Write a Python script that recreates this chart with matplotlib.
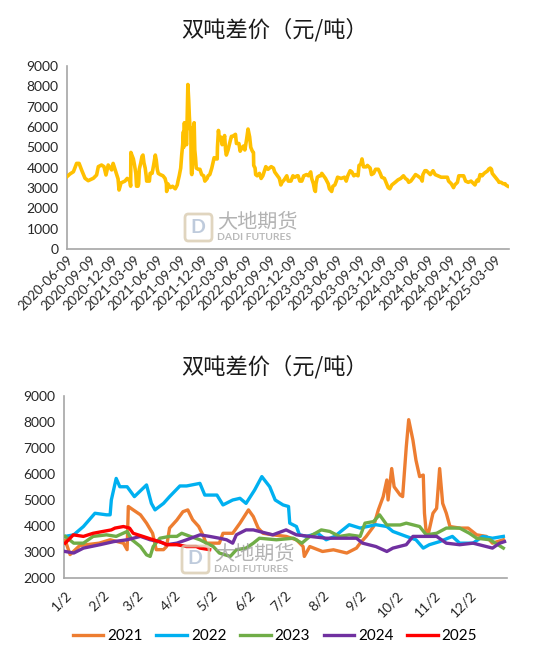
import numpy as np
import pandas as pd
import matplotlib
matplotlib.use("Agg")
import matplotlib.pyplot as plt
import matplotlib.dates as mdates
from matplotlib.patches import FancyBboxPatch

plt.rcParams['font.family'] = ['Lato', 'Noto Sans CJK SC', 'DejaVu Sans']

title = "双吨差价（元/吨）"

# 2020 part of the long series (Jun-Dec)
dates_2020 = ["2020-06-09", "2020-06-21", "2020-07-05", "2020-07-18", "2020-07-28",
              "2020-08-07", "2020-08-21", "2020-09-03", "2020-09-24", "2020-10-07",
              "2020-10-14", "2020-10-27", "2020-11-06", "2020-11-14", "2020-11-23",
              "2020-12-07", "2020-12-13", "2020-12-24"]
vals_2020 = [3560, 3690, 3800, 4210, 4210, 3890, 3480, 3360, 3480, 3640,
             4050, 4130, 4050, 3640, 4130, 3890, 4210, 3800]

# per-year series: day of year, value
day_2021 = [2, 6, 14, 30, 39, 50, 53, 54, 58, 64, 69, 74, 77, 83, 85.5, 88, 94, 99, 103, 107,
            112, 116, 118, 129, 132, 140, 146, 153, 157, 161, 165, 173, 184, 192.5, 198, 199,
            203.5, 214, 223, 234, 242, 245, 250, 256, 260, 264, 267, 268, 271, 273, 278, 280,
            283, 285, 288.5, 291, 294, 297, 298, 299.5, 301, 305, 308, 310.5, 313, 316, 319,
            327, 334, 341, 349, 354, 363]
val_2021 = [3450, 2900, 3250, 3340, 3470, 3340, 3090, 4750, 4620, 4430, 4110, 3720, 3090, 3090,
            3210, 3920, 4230, 4550, 4620, 4240, 3980, 3600, 3340, 3340, 3720, 3720, 4110, 4620,
            4360, 3920, 3720, 3660, 3600, 3470, 3210, 2830, 3210, 3020, 3085, 2960, 3150, 3340,
            3600, 3980, 4620, 5130, 5770, 5000, 6210, 5510, 5190, 5130, 7040, 8090, 7300, 6530,
            5900, 5960, 4490, 3720, 3660, 4490, 4680, 6210, 4870, 4490, 3980, 3920, 3920, 3660,
            3600, 3340, 3470]

day_2022 = [2, 9, 17, 26.5, 36, 39, 40, 44, 47, 50, 53, 59, 69, 73, 76, 83, 88, 96.5, 102, 113,
            117, 127, 132, 140, 146, 151, 158, 164, 170.5, 175, 181.5, 186, 187, 192.5, 195, 201,
            210, 217, 224, 236, 245, 258, 267, 272, 283, 291, 297, 302, 310.5, 321, 327, 338,
            346, 354, 363]
val_2022 = [3600, 3660, 3980, 4490, 4430, 4430, 5000, 5830, 5510, 5510, 5510, 5130, 5580, 4870,
            4620, 4870, 5130, 5540, 5540, 5640, 5190, 5190, 4810, 5000, 5065, 4870, 5380, 5900,
            5510, 5000, 4810, 4750, 4110, 3980, 3660, 3600, 3720, 3470, 3600, 4050, 3920, 4050,
            3980, 3790, 3600, 3470, 3150, 3280, 3400, 3600, 3340, 3340, 3600, 3530, 3600]

day_2023 = [2, 9, 17, 25, 36, 44, 53, 57, 64, 69, 72, 74.5, 80, 88, 94, 98, 105, 113, 124, 129,
            138, 143, 151, 157, 162, 176, 190, 197, 203.5, 213, 220, 228, 236, 245, 249, 256,
            261, 267, 278, 283, 294, 299.5, 308, 316, 327, 335, 341, 352, 363]
val_2023 = [3600, 3340, 3340, 3600, 3660, 3600, 3790, 3470, 3210, 2890, 2830, 3210, 3530, 3600,
            3600, 3720, 3600, 3470, 3210, 2960, 2830, 3085, 3150, 3340, 3530, 3470, 3530, 3340,
            3600, 3850, 3790, 3600, 3660, 3600, 4110, 4170, 4430, 4040, 4040, 4110, 3980, 3660,
            3720, 3920, 3920, 3720, 3530, 3470, 3150]

day_2024 = [2, 9, 17, 30.6, 42, 53, 64, 72, 80, 85.5, 94, 102, 113, 121, 129, 135, 140, 143,
            151, 157, 162, 173, 184, 192.5, 203.5, 217, 228, 242, 247, 258, 267, 272, 283,
            288.5, 299.5, 308, 316, 327, 338, 349, 354, 360, 364]
val_2024 = [3020, 2960, 3150, 3280, 3400, 3470, 3600, 3470, 3400, 3280, 3340, 3470, 3660, 3600,
            3530, 3470, 3340, 3660, 3850, 3850, 3790, 3660, 3850, 3660, 3600, 3530, 3530, 3530,
            3340, 3210, 3020, 3150, 3280, 3600, 3600, 3600, 3340, 3280, 3340, 3210, 3150, 3340,
            3400]

day_2025 = [2, 8.7, 17, 25, 33, 40, 43, 50, 55, 58, 66, 74.5, 83, 85.5, 94, 102, 110, 113, 121]
val_2025 = [3340, 3660, 3600, 3720, 3790, 3850, 3920, 3980, 3920, 3720, 3600, 3470, 3340, 3280,
            3280, 3210, 3210, 3150, 3090]

years = [2021, 2022, 2023, 2024, 2025]
year_days = [day_2021, day_2022, day_2023, day_2024, day_2025]
year_vals = [val_2021, val_2022, val_2023, val_2024, val_2025]
colors = ['#ED7D31', '#00B0F0', '#70AD47', '#7030A0', '#FF0000']

month_ticks = [2, 33, 61, 92, 122, 153, 183, 214, 245, 275, 306, 336]
month_labels = [f"{m}/2" for m in range(1, 13)]

# long series = 2020 part + each year's points placed on real dates
all_dates = list(pd.to_datetime(dates_2020))
all_vals = list(vals_2020)
for y, dd, vv in zip(years, year_days, year_vals):
    base = pd.Timestamp(f"{y}-01-01")
    all_dates += [base + pd.Timedelta(days=d - 1) for d in dd]
    all_vals += vv

fig = plt.figure(figsize=(5.5, 6.59), dpi=100)
W, H = 550, 659

def style_axes(ax):
    for s in ['top', 'right']:
        ax.spines[s].set_visible(False)
    for s in ['left', 'bottom']:
        ax.spines[s].set_color('#A6A6A6')
        ax.spines[s].set_linewidth(1.2)
    ax.tick_params(length=0, labelsize=10, colors='#262626', pad=6)

def watermark(x, y):
    # x, y: top-left corner in pixels
    box = FancyBboxPatch((x / W, 1 - (y + 28) / H), 27 / W, 27 / H,
                         boxstyle="round,pad=0,rounding_size=0.006",
                         transform=fig.transFigure, facecolor='none',
                         edgecolor='#D9CBB0', lw=2.0, alpha=0.8)
    fig.patches.append(box)
    fig.text((x + 13) / W, 1 - (y + 14) / H, "D", fontsize=14, color='#B8C6D9',
             ha='center', va='center', fontweight='bold', alpha=0.9)
    fig.text((x + 32) / W, 1 - (y + 9) / H, "大地期货", fontsize=14.5, color='#A0A0A0',
             ha='left', va='center', alpha=0.8, family=['Noto Sans CJK SC'])
    fig.text((x + 32) / W, 1 - (y + 24) / H, "DADI FUTURES", fontsize=7.5, color='#A8A8A8',
             ha='left', va='center', fontweight='bold', alpha=0.8)

# ---- top chart
ax1 = fig.add_axes([67 / W, 1 - 249 / H, 442 / W, 183 / H])
ax1.plot(all_dates, all_vals, color='#FFC000', lw=2.6, zorder=3)
ax1.set_ylim(0, 9000)
ax1.set_yticks(range(0, 9001, 1000))
ax1.set_xlim(pd.Timestamp("2020-06-09"), pd.Timestamp("2025-05-06"))
top_ticks = pd.date_range("2020-06-09", "2025-03-09", freq=pd.DateOffset(months=3))
ax1.set_xticks(top_ticks)
ax1.set_xticklabels([t.strftime("%Y-%m-%d") for t in top_ticks], rotation=45,
                    ha='right', rotation_mode='anchor', fontsize=9.5)
style_axes(ax1)
ax1.tick_params(axis='x', labelsize=9.5, pad=3)
fig.text(0.5, 1 - 30 / H, title, ha='center', va='center', fontsize=16,
         color='#1a1a1a', family=['Noto Sans CJK SC'])
watermark(185, 213)

# ---- bottom chart
ax2 = fig.add_axes([64 / W, 1 - 578 / H, 443 / W, 182 / H])
for y, dd, vv, c in zip(years, year_days, year_vals, colors):
    ax2.plot(dd, vv, color=c, lw=2.4, label=str(y), zorder=3)
ax2.set_ylim(2000, 9000)
ax2.set_yticks(range(2000, 9001, 1000))
ax2.set_xlim(1, 366)
ax2.set_xticks(month_ticks)
ax2.set_xticklabels(month_labels, rotation=45, ha='right', rotation_mode='anchor')
style_axes(ax2)
ax2.tick_params(axis='x', pad=8)
fig.text(0.5, 1 - 367 / H, title, ha='center', va='center', fontsize=16,
         color='#1a1a1a', family=['Noto Sans CJK SC'])
watermark(182, 545)

fig.legend(loc='center', bbox_to_anchor=(0.5, 1 - 636 / H), ncol=5, frameon=False,
           fontsize=11, handlelength=2.0, columnspacing=0.9, handletextpad=0.25)

fig.savefig("out.png", dpi=100)
